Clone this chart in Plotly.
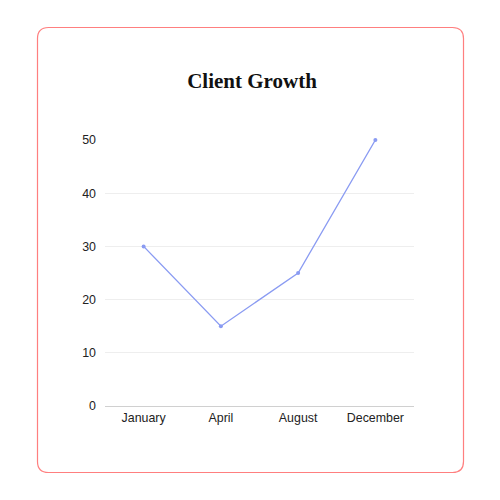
import plotly.graph_objects as go

months = ["January", "April", "August", "December"]
clients = [30, 15, 25, 50]
y_ticks = [0, 10, 20, 30, 40, 50]

OFF = 8  # page body margin
W = H = 500
L = 105 - OFF
T = 140 - OFF
R = W - (414 - OFF)
B = H - (406 - OFF)
pw = W - L - R
ph = H - T - B

def px(x):
    return (x - OFF - L) / pw

def py(y):
    return (H - B - (y - OFF)) / ph

x0, x1, y0, y1, r = 37.5, 463.5, 27.5, 472.5, 11
path = (
    f"M {px(x0 + r)} {py(y0)} L {px(x1 - r)} {py(y0)} "
    f"Q {px(x1)} {py(y0)} {px(x1)} {py(y0 + r)} "
    f"L {px(x1)} {py(y1 - r)} Q {px(x1)} {py(y1)} {px(x1 - r)} {py(y1)} "
    f"L {px(x0 + r)} {py(y1)} Q {px(x0)} {py(y1)} {px(x0)} {py(y1 - r)} "
    f"L {px(x0)} {py(y0 + r)} Q {px(x0)} {py(y0)} {px(x0 + r)} {py(y0)} Z"
)

fig = go.Figure(
    go.Scatter(
        x=months,
        y=clients,
        mode="lines+markers",
        line=dict(color="#8a9bf2", width=1.3),
        marker=dict(color="#8a9bf2", size=4),
        cliponaxis=False,
    )
)

fig.update_layout(
    width=W,
    height=H,
    margin=dict(l=L, r=R, t=T, b=B),
    paper_bgcolor="white",
    plot_bgcolor="white",
    showlegend=False,
    title=dict(
        text="<b>Client Growth</b>",
        x=(252 - OFF) / W,
        xanchor="center",
        xref="container",
        y=1 - (81 - OFF) / H,
        yanchor="middle",
        font=dict(family="Liberation Serif, serif", size=21, color="#111111"),
    ),
    xaxis=dict(
        type="category",
        range=[-0.5, 3.5],
        showgrid=False,
        showline=False,
        ticks="",
        ticklabelstandoff=3,
        tickfont=dict(family="Liberation Sans, Arial", size=12.4, color="#222222"),
    ),
    yaxis=dict(
        range=[0, 50],
        tickvals=y_ticks,
        showgrid=True,
        gridcolor="#eeeeee",
        gridwidth=1,
        zeroline=True,
        zerolinecolor="#d0d0d0",
        zerolinewidth=1,
        ticks="",
        ticklabelstandoff=8,
        tickfont=dict(family="Liberation Sans, Arial", size=12.4, color="#222222"),
    ),
    shapes=[
        dict(
            type="path",
            xref="paper",
            yref="paper",
            path=path,
            line=dict(color="#ff7f7f", width=1.2),
            layer="below",
        )
    ],
)

fig.write_html("out.html")
